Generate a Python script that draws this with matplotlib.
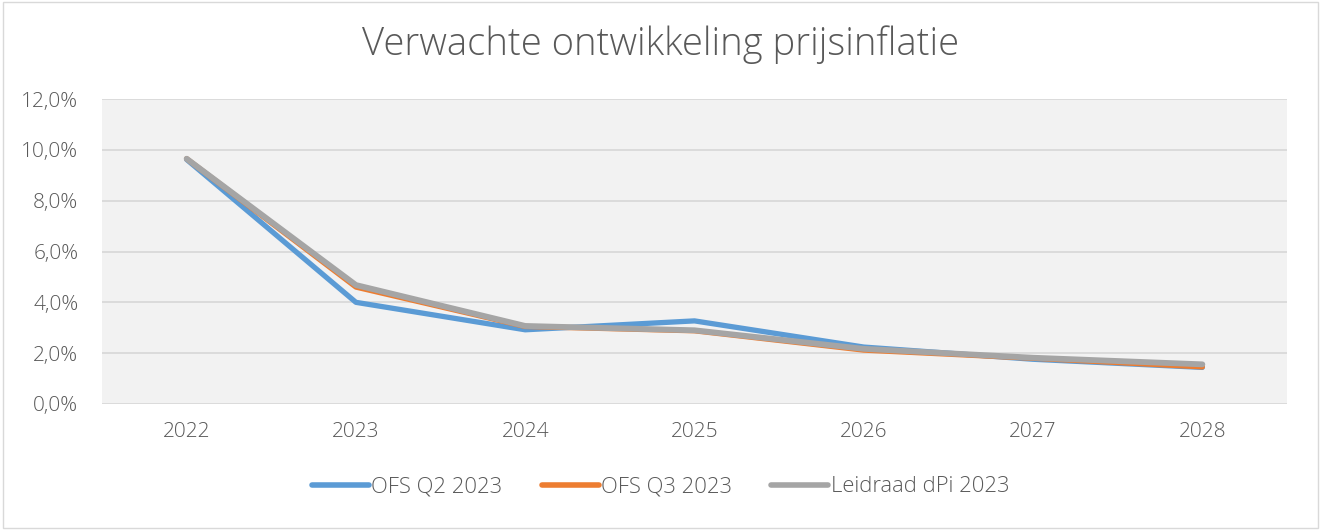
import numpy as np
import matplotlib.pyplot as plt
from matplotlib.ticker import FuncFormatter
from matplotlib.patches import Rectangle

# gegevens
jaren = ['2022', '2023', '2024', '2025', '2026', '2027', '2028']
ofs_q2 = [9.62, 4.00, 2.92, 3.27, 2.24, 1.76, 1.44]
ofs_q3 = [9.65, 4.60, 3.05, 2.88, 2.12, 1.80, 1.46]
leidraad = [9.65, 4.68, 3.07, 2.90, 2.17, 1.82, 1.56]

plt.rcParams['font.family'] = ['Open Sans', 'DejaVu Sans']
plt.rcParams['font.weight'] = 'light'

fig = plt.figure(figsize=(13.21, 5.30), dpi=100)
ax = fig.add_axes([102/1321, 1-404/530, 1185/1321, 305/530])
ax.set_facecolor('#F2F2F2')

x = np.arange(len(jaren))
ax.plot(x, ofs_q2, color='#5B9BD5', lw=3.8, solid_capstyle='round', label='OFS Q2 2023', zorder=3)
ax.plot(x, ofs_q3, color='#ED7D31', lw=3.8, solid_capstyle='round', label='OFS Q3 2023', zorder=4)
ax.plot(x, leidraad, color='#A5A5A5', lw=4.2, solid_capstyle='round', label='Leidraad dPi 2023', zorder=5)

ax.set_xlim(-0.5, len(jaren) - 0.5)
ax.set_ylim(0, 12)
ax.set_yticks(np.arange(0, 12.1, 2))
ax.yaxis.set_major_formatter(FuncFormatter(lambda v, p: f'{v:.1f}%'.replace('.', ',')))
ax.set_xticks(x)
ax.set_xticklabels(jaren)
ax.grid(axis='y', color='#D9D9D9', lw=1.3)
ax.set_axisbelow(True)
for s in ax.spines.values():
    s.set_visible(False)
ax.tick_params(length=0, labelsize=15, colors='#595959')
ax.tick_params(axis='x', pad=13)
ax.tick_params(axis='y', pad=17)

fig.text(0.5, 1-45/530, 'Verwachte ontwikkeling prijsinflatie', ha='center', va='center',
         fontsize=27.5, color='#595959')

leg = fig.legend(loc='center', bbox_to_anchor=(0.5, 1-487/530), ncol=3, frameon=False,
                 fontsize=15.8, handlelength=2.6, handletextpad=0.1, columnspacing=1.8)
for t in leg.get_texts():
    t.set_color('#595959')
for h in leg.legend_handles:
    h.set_linewidth(4)

# rand rond de figuur
fig.patches.append(Rectangle((0.002, 0.003), 0.996, 0.994, transform=fig.transFigure,
                             fill=False, edgecolor='#D9D9D9', lw=1))

fig.savefig('out.png', dpi=100)
